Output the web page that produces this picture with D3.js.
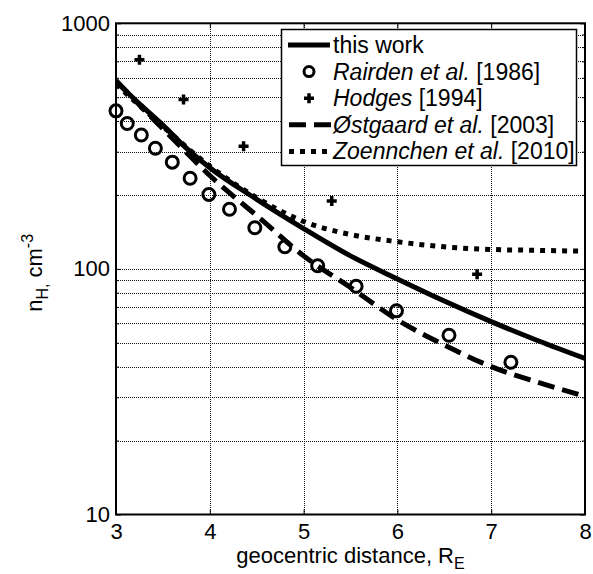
<!DOCTYPE html>
<html>
<head>
<meta charset="utf-8">
<script src="https://cdn.jsdelivr.net/npm/d3@7"></script>
<style>
  body { margin: 0; background: #fff; }
  text { font-family: "Liberation Sans", Arial, sans-serif; fill: #000; }
</style>
</head>
<body>
<svg id="chart" width="593" height="574"></svg>
<script>
// tick values
var xTicks = [3, 4, 5, 6, 7, 8];
var yTicks = [10, 100, 1000];
var yMinor = [20, 30, 40, 50, 60, 70, 80, 90, 200, 300, 400, 500, 600, 700, 800, 900];

// this work (solid)
var thisWorkR = [3, 3.25, 3.5, 3.75, 4, 4.5, 5, 5.5, 6, 6.5, 7, 7.5, 8];
var thisWorkN = [580, 470, 385, 310, 258, 192, 146, 113, 91, 74, 61, 51, 43.2];
// Rairden et al. 1986 (circles)
var rairdenR = [3.0, 3.12, 3.27, 3.42, 3.6, 3.79, 3.99, 4.21, 4.48, 4.8, 5.15, 5.56, 5.99, 6.55, 7.21];
var rairdenN = [440, 391, 351, 310, 272, 234, 201, 175, 147, 123, 103, 85, 67.5, 53.7, 41.7];
// Hodges 1994 (plus)
var hodgesR = [3.25, 3.72, 4.36, 5.3, 6.85];
var hodgesN = [710, 490, 316, 189, 95];
// Ostgaard et al. 2003 (dashed)
var ostgaardR = [3, 3.25, 3.5, 3.75, 4, 4.25, 4.5, 5, 5.5, 6, 6.5, 7, 7.5, 8];
var ostgaardN = [585, 465, 372, 298, 240, 198, 165, 113, 84, 62, 49, 40, 34.5, 30.3];
// Zoennchen et al. 2010 (dotted)
var zoennR = [3, 3.5, 4, 4.5, 5, 5.5, 6, 6.5, 7, 7.5, 8];
var zoennN = [565, 380, 262, 195, 156, 138, 129, 123, 120, 119, 118];

var legendItalic = ["", "Rairden et al.", "Hodges", "\u00d8stgaard et al.", "Zoennchen et al."];
var legendPlain = ["this work", " [1986]", " [1994]", " [2003]", " [2010]"];

var svg = d3.select("#chart");
var pLeft = 116, pRight = 585, pTop = 23.3, pBottom = 514.5;

var x = d3.scaleLinear().domain([3, 8]).range([pLeft, pRight]);
var y = d3.scaleLog().domain([10, 1000]).range([pBottom, pTop]);
var snap = v => Math.round(v) + 0.5;

// grid (dotted, MATLAB style)
var grid = svg.append("g")
  .attr("stroke", "#111")
  .attr("stroke-width", 1)
  .attr("stroke-dasharray", "1,1")
  .attr("shape-rendering", "crispEdges");
grid.selectAll(".gx").data(xTicks.slice(1, -1)).join("line")
  .attr("x1", d => snap(x(d))).attr("x2", d => snap(x(d)))
  .attr("y1", pTop).attr("y2", pBottom);
grid.selectAll(".gy").data(yMinor.concat([100])).join("line")
  .attr("x1", pLeft).attr("x2", pRight)
  .attr("y1", d => snap(y(d))).attr("y2", d => snap(y(d)));

// axes with inward ticks
var xAxis = svg.append("g").attr("transform", "translate(0," + pBottom + ")")
  .call(d3.axisBottom(x).tickValues(xTicks).tickSize(-5).tickPadding(9).tickFormat(d3.format("d")));
svg.append("g").attr("transform", "translate(0," + pTop + ")")
  .call(d3.axisTop(x).tickValues(xTicks).tickSize(-5).tickFormat(""));
var yAxis = svg.append("g").attr("transform", "translate(" + pLeft + ",0)")
  .call(d3.axisLeft(y).tickValues(yTicks).tickSize(-5).tickPadding(6).tickFormat(d3.format("d")));
svg.append("g").attr("transform", "translate(" + pRight + ",0)")
  .call(d3.axisRight(y).tickValues(yTicks).tickSize(-5).tickFormat(""));
svg.append("g").attr("transform", "translate(" + pLeft + ",0)")
  .call(d3.axisLeft(y).tickValues(yMinor).tickSize(-3).tickFormat(""));
svg.append("g").attr("transform", "translate(" + pRight + ",0)")
  .call(d3.axisRight(y).tickValues(yMinor).tickSize(-3).tickFormat(""));

svg.selectAll(".domain").remove();
svg.selectAll(".tick line").attr("stroke", "#000").attr("stroke-width", 1);
svg.selectAll(".tick text").attr("font-size", 22).attr("font-family", "Liberation Sans, Arial, sans-serif").attr("fill", "#000");
xAxis.selectAll(".tick text").attr("dy", "0.71em");

// clip for lines
svg.append("clipPath").attr("id", "plotClip").append("rect")
  .attr("x", pLeft).attr("y", pTop).attr("width", pRight - pLeft).attr("height", pBottom - pTop);

var line = d3.line().x(d => x(d[0])).y(d => y(d[1])).curve(d3.curveMonotoneX);
var plot = svg.append("g");
var lines = plot.append("g").attr("clip-path", "url(#plotClip)");

lines.append("path").datum(d3.zip(thisWorkR, thisWorkN))
  .attr("d", line).attr("fill", "none").attr("stroke", "#000").attr("stroke-width", 5);

plot.append("g").selectAll("circle").data(d3.zip(rairdenR, rairdenN)).join("circle")
  .attr("cx", d => x(d[0])).attr("cy", d => y(d[1])).attr("r", 6)
  .attr("fill", "none").attr("stroke", "#000").attr("stroke-width", 3);

plot.append("g").selectAll("path").data(d3.zip(hodgesR, hodgesN)).join("path")
  .attr("transform", d => "translate(" + x(d[0]) + "," + y(d[1]) + ")")
  .attr("d", "M-5,0H5M0,-5V5")
  .attr("fill", "none").attr("stroke", "#000").attr("stroke-width", 3.5);

var lines2 = plot.append("g").attr("clip-path", "url(#plotClip)");
lines2.append("path").datum(d3.zip(ostgaardR, ostgaardN))
  .attr("d", line).attr("fill", "none").attr("stroke", "#000").attr("stroke-width", 5)
  .attr("stroke-dasharray", "17,8");
lines2.append("path").datum(d3.zip(zoennR, zoennN))
  .attr("d", line).attr("fill", "none").attr("stroke", "#000").attr("stroke-width", 5)
  .attr("stroke-dasharray", "5,6");

// frame
svg.append("rect").attr("x", pLeft).attr("y", pTop)
  .attr("width", pRight - pLeft).attr("height", pBottom - pTop)
  .attr("fill", "none").attr("stroke", "#000").attr("stroke-width", 2);

// legend
var lg = svg.append("g");
lg.append("rect").attr("x", 281.5).attr("y", 29.5).attr("width", 295).attr("height", 136)
  .attr("fill", "#fff").attr("stroke", "#000").attr("stroke-width", 1.5);
var rowY = d3.range(legendPlain.length).map(i => 45 + i * 26.6);
var rows = lg.selectAll("g.row").data(legendPlain).join("g")
  .attr("transform", (d, i) => "translate(0," + rowY[i] + ")");
rows.each(function (d, i) {
  var g = d3.select(this);
  if (i === 0) {
    g.append("line").attr("x1", 288).attr("x2", 330).attr("stroke", "#000").attr("stroke-width", 5);
  } else if (i === 1) {
    g.append("circle").attr("cx", 309).attr("r", 5).attr("fill", "none").attr("stroke", "#000").attr("stroke-width", 3);
  } else if (i === 2) {
    g.append("path").attr("d", "M304,0H314M309,-5V5").attr("stroke", "#000").attr("stroke-width", 3.5);
  } else if (i === 3) {
    g.append("line").attr("x1", 289).attr("x2", 331).attr("stroke", "#000").attr("stroke-width", 5)
      .attr("stroke-dasharray", "17,8");
  } else {
    g.append("line").attr("x1", 289).attr("x2", 331).attr("stroke", "#000").attr("stroke-width", 5)
      .attr("stroke-dasharray", "5,6");
  }
  var t = g.append("text").attr("x", 333).attr("y", 8).attr("font-size", 23);
  if (legendItalic[i]) t.append("tspan").attr("font-style", "italic").text(legendItalic[i]);
  t.append("tspan").text(d);
});

// axis labels
var xl = svg.append("text").attr("x", (pLeft + pRight) / 2).attr("y", 563)
  .attr("text-anchor", "middle").attr("font-size", 22);
xl.append("tspan").text("geocentric distance, R");
xl.append("tspan").attr("font-size", 16).attr("dy", 6).text("E");

var yl = svg.append("text")
  .attr("transform", "translate(42," + ((pTop + pBottom) / 2 + 4) + ") rotate(-90)")
  .attr("text-anchor", "middle").attr("font-size", 22);
yl.append("tspan").text("n");
yl.append("tspan").attr("font-size", 16).attr("dy", 6).text("H,");
yl.append("tspan").attr("dy", -6).text(" cm");
yl.append("tspan").attr("font-size", 16).attr("dy", -9).text("-3");
</script>
</body>
</html>
